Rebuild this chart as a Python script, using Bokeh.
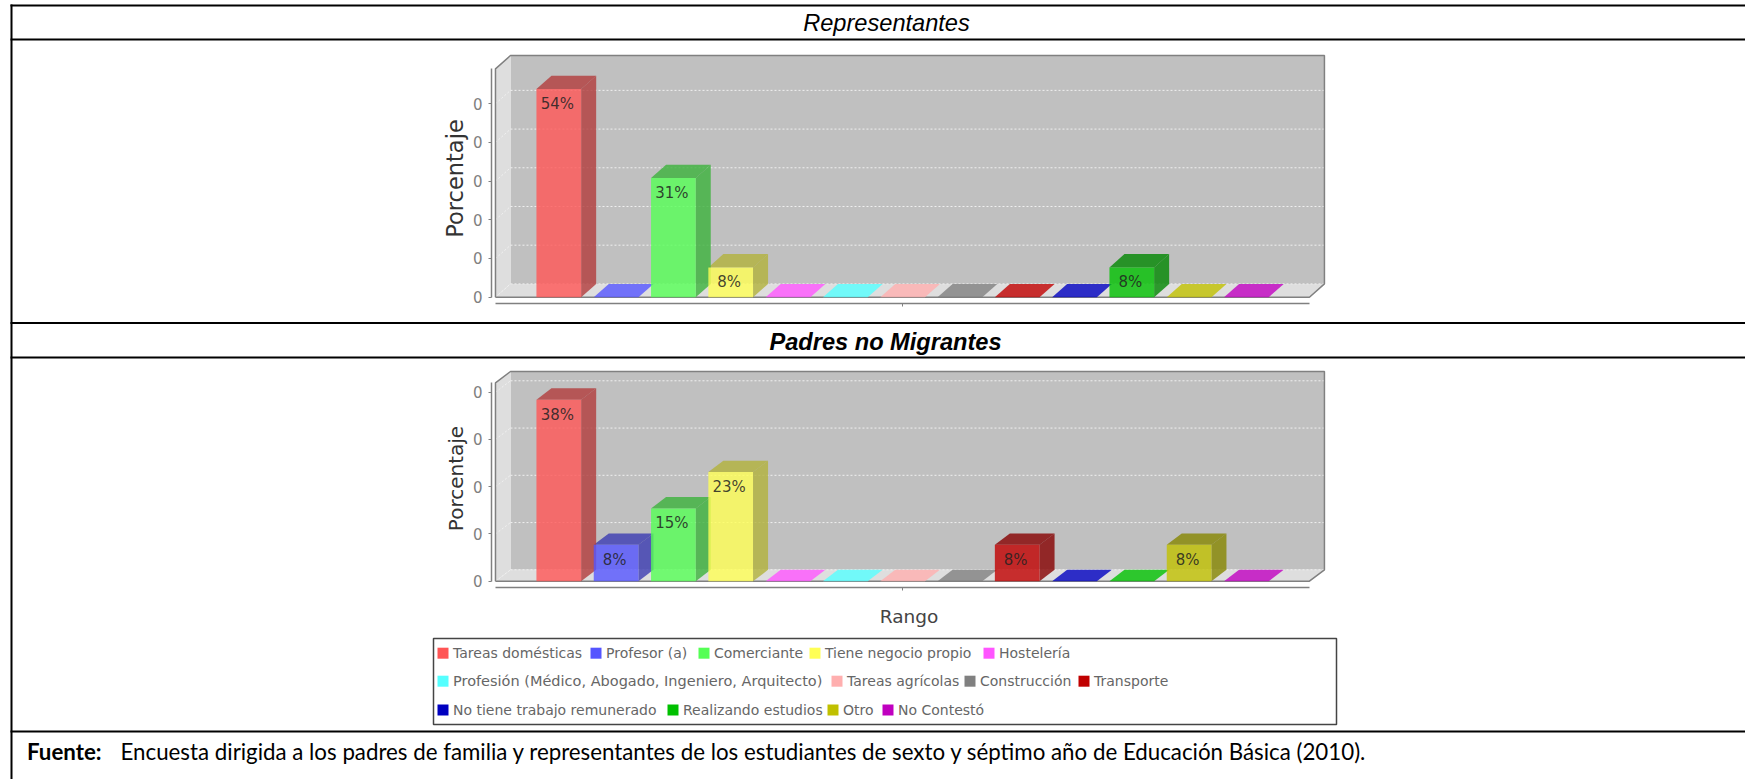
from bokeh.plotting import figure
from bokeh.layouts import column
from bokeh.models import FixedTicker, Range1d, ColumnDataSource
from bokeh.core.properties import value
from bokeh.embed import file_html
from bokeh.resources import INLINE

# ---------- data ----------
categories = ["Tareas domésticas", "Profesor (a)", "Comerciante", "Tiene negocio propio", "Hostelería",
              "Profesión (Médico, Abogado, Ingeniero, Arquitecto)", "Tareas agrícolas", "Construcción",
              "Transporte", "No tiene trabajo remunerado", "Realizando estudios", "Otro", "No Contestó"]
colors = ["#FF5555", "#5555FF", "#55FF55", "#FFFF55", "#FF55FF", "#55FFFF", "#FFAFAF", "#808080",
          "#C00000", "#0000C0", "#00C000", "#C0C000", "#C000C0"]
representantes = [53.8, 0, 30.8, 7.7, 0, 0, 0, 0, 0, 0, 7.7, 0, 0]
representantes_labels = ["54%", "", "31%", "8%", "", "", "", "", "", "", "8%", "", ""]
padres = [38.4, 7.7, 15.4, 23.1, 0, 0, 0, 0, 7.7, 0, 0, 7.7, 0]
padres_labels = ["38%", "8%", "15%", "23%", "", "", "", "", "8%", "", "", "8%", ""]
ticks_rep = [0, 10, 20, 30, 40, 50]
ticks_pad = [0, 10, 20, 30, 40]
tick_text = "0"   # the source image clips these labels to their last digit
y_title = "Porcentaje"
x_title = "Rango"
title_rep = "Representantes"
title_pad = "Padres no Migrantes"
footer_head = "Fuente:"
footer_text = "Encuesta dirigida a los padres de familia y representantes de los estudiantes de sexto y séptimo año de Educación Básica (2010)."

# ---------- layout constants ----------
W, H = 1745, 779
X0, X1 = -1.105, 13.1      # front floor edges in category units
DX = 0.262                 # depth in category units
HALF = 0.39                # half bar width
WALL = "#DEDEDE"
BACK = "#C0C0C0"
EDGE = "#808080"


def darker(c):
    r, g, b = int(c[1:3], 16), int(c[3:5], 16), int(c[5:7], 16)
    return "#%02X%02X%02X" % (int(r * .7), int(g * .7), int(b * .7))


def chart(vals, labels, ticks, left, top, w, h, yr, T, dy, mb_top, mb_bottom, title_size, title_standoff, xlabel=None):
    p = figure(width=w, height=h, x_range=Range1d(-1.1745, 13.398), y_range=Range1d(*yr),
               toolbar_location=None, output_backend="svg", tools="",
               min_border_left=61, min_border_right=9, min_border_top=mb_top, min_border_bottom=mb_bottom,
               background_fill_color=None, border_fill_color=None, outline_line_color=None, frame_align=False)
    p.styles = {"position": "absolute", "left": f"{left}px", "top": f"{top}px"}
    p.grid.visible = False

    # walls
    p.patch([X0 + DX, X1 + DX, X1 + DX, X0 + DX], [dy, dy, T, T], fill_color=BACK, line_color=None)
    p.patch([X0, X0 + DX, X0 + DX, X0], [0, dy, T, T - dy], fill_color=WALL, line_color=None)
    p.patch([X0, X1, X1 + DX, X0 + DX], [0, 0, dy, dy], fill_color=WALL, line_color=None)
    # gridlines
    for t in ticks:
        p.line([X0 + DX, X1 + DX], [t + dy, t + dy], line_color="#F0F0F0", line_dash="2 2", line_width=1)
        p.line([X0, X0 + DX], [t, t + dy], line_color="#F0F0F0", line_dash="2 2", line_width=1)
    # outline
    p.line([X0, X0, X0 + DX, X1 + DX, X1 + DX, X1, X0], [0, T - dy, T, T, dy, 0, 0],
           line_color=EDGE, line_width=1.5)

    # bars
    front, side, tops = {"x": [], "y": [], "c": []}, {"x": [], "y": [], "c": []}, {"x": [], "y": [], "c": []}
    for i, (v, c) in enumerate(zip(vals, colors)):
        l, r = i - HALF, i + HALF
        tops["x"].append([l, r, r + DX, l + DX])
        tops["y"].append([v, v, v + dy, v + dy])
        tops["c"].append(darker(c) if v > 0 else c)
        if v > 0:
            side["x"].append([r, r + DX, r + DX, r])
            side["y"].append([0, dy, v + dy, v])
            side["c"].append(darker(c))
            front["x"].append([l, r, r, l])
            front["y"].append([0, 0, v, v])
            front["c"].append(c)
    for d in (tops, side, front):
        p.patches("x", "y", source=ColumnDataSource(d), fill_color="c", fill_alpha=0.8, line_color=None)

    idx = [i for i, t in enumerate(labels) if t]
    p.text([i for i in idx], [vals[i] for i in idx], text=[labels[i] for i in idx],
           text_font=value("DejaVu Sans"), text_font_size="15px", text_color="#222222", text_alpha=0.85,
           text_align="center", text_baseline="middle", x_offset=-1.5, y_offset=15)

    # axes
    ya = p.yaxis[0]
    ya.ticker = FixedTicker(ticks=ticks)
    ya.major_label_overrides = {t: tick_text for t in ticks}
    ya.bounds = (0, T - dy)
    ya.axis_line_color = EDGE
    ya.axis_line_width = 1.5
    ya.major_tick_line_color = EDGE
    ya.major_tick_out = 3
    ya.major_tick_in = 0
    ya.minor_tick_line_color = None
    ya.major_label_standoff = 6
    ya.major_label_text_font = "DejaVu Sans"
    ya.major_label_text_font_size = "15px"
    ya.major_label_text_color = "#808080"
    ya.axis_label = y_title
    ya.axis_label_text_font = "DejaVu Sans"
    ya.axis_label_text_font_style = "normal"
    ya.axis_label_text_font_size = title_size
    ya.axis_label_text_color = "#333333"
    ya.axis_label_standoff = title_standoff

    xa = p.xaxis[0]
    xa.ticker = FixedTicker(ticks=[6])
    xa.major_label_overrides = {6: " "}
    xa.major_label_text_font_size = "1px"
    xa.major_label_standoff = 0
    xa.bounds = (X0, X1)
    xa.axis_line_color = EDGE
    xa.axis_line_width = 1.5
    xa.major_tick_line_color = EDGE
    xa.major_tick_out = 3
    xa.major_tick_in = 0
    xa.minor_tick_line_color = None
    if xlabel:
        xa.axis_label = xlabel
        xa.axis_label_text_font = "DejaVu Sans"
        xa.axis_label_text_font_style = "normal"
        xa.axis_label_text_font_size = "18.5px"
        xa.axis_label_text_color = "#444444"
        xa.axis_label_standoff = 11
    return p


# ---------- page: table rules, headings, legend, footer ----------
page = figure(width=W, height=H, x_range=Range1d(0, W), y_range=Range1d(H, 0),
              toolbar_location=None, output_backend="svg", tools="",
              min_border=0, outline_line_color=None, x_axis_type=None, y_axis_type=None, frame_align=False)
page.grid.visible = False
for y in (5, 39, 322.5, 357, 731):
    page.line([10, W], [y, y], line_color="black", line_width=2)
page.line([11, 11], [4, H], line_color="black", line_width=2)

page.text([886], [22], text=[title_rep], text_font=value("Liberation Sans"), text_font_style="italic",
          text_font_size="23.6px", text_color="black", text_align="center", text_baseline="middle")
page.text([885], [341], text=[title_pad], text_font=value("Liberation Sans"), text_font_style="bold italic",
          text_font_size="23.6px", text_color="black", text_align="center", text_baseline="middle")

# legend
page.quad(left=[433], right=[1336], top=[638], bottom=[724], fill_color="white", line_color="#444444", line_width=1.5)
legend_x = [437, 590, 698, 809, 983, 437, 831, 964, 1078, 437, 667, 827, 882]
legend_y = [652.7] * 5 + [680.7] * 4 + [709.5] * 4
legend_sizes = ["14px"] * 5 + ["14.5px"] + ["14px"] * 7
page.quad(left=legend_x, right=[x + 11 for x in legend_x], top=[y - 5.5 for y in legend_y],
          bottom=[y + 5.5 for y in legend_y], fill_color=colors, line_color=None)
page.text(x="x", y="y", text="t", text_font_size="s", text_font=value("DejaVu Sans"),
          text_color="#666666", text_align="left", text_baseline="middle",
          source=ColumnDataSource(dict(x=[x + 15.5 for x in legend_x], y=legend_y, t=categories, s=legend_sizes)))

# footer
page.text([26.5], [750.5], text=[footer_head], text_font=value("Lato"), text_font_style="bold",
          text_font_size="22.3px", text_color="black", text_align="left", text_baseline="middle")
page.text([120], [750.5], text=[footer_text], text_font=value("Lato"),
          text_font_size="22.3px", text_color="black", text_align="left", text_baseline="middle")

# ---------- charts ----------
c1 = chart(representantes, representantes_labels, ticks_rep, 430, 45, 905, 270, (-1.63, 62.97), 62.45, 3.44,
           8, 12, "22.5px", 2)
c2 = chart(padres, padres_labels, ticks_pad, 430, 360, 905, 272, (-1.33, 44.8), 44.38, 2.41,
           9, 45, "20px", 2, xlabel=x_title)

root = column(page, c1, c2, spacing=0)
root.styles = {"position": "absolute", "left": "0px", "top": "0px"}
open("out.html", "w").write(file_html(root, INLINE))
